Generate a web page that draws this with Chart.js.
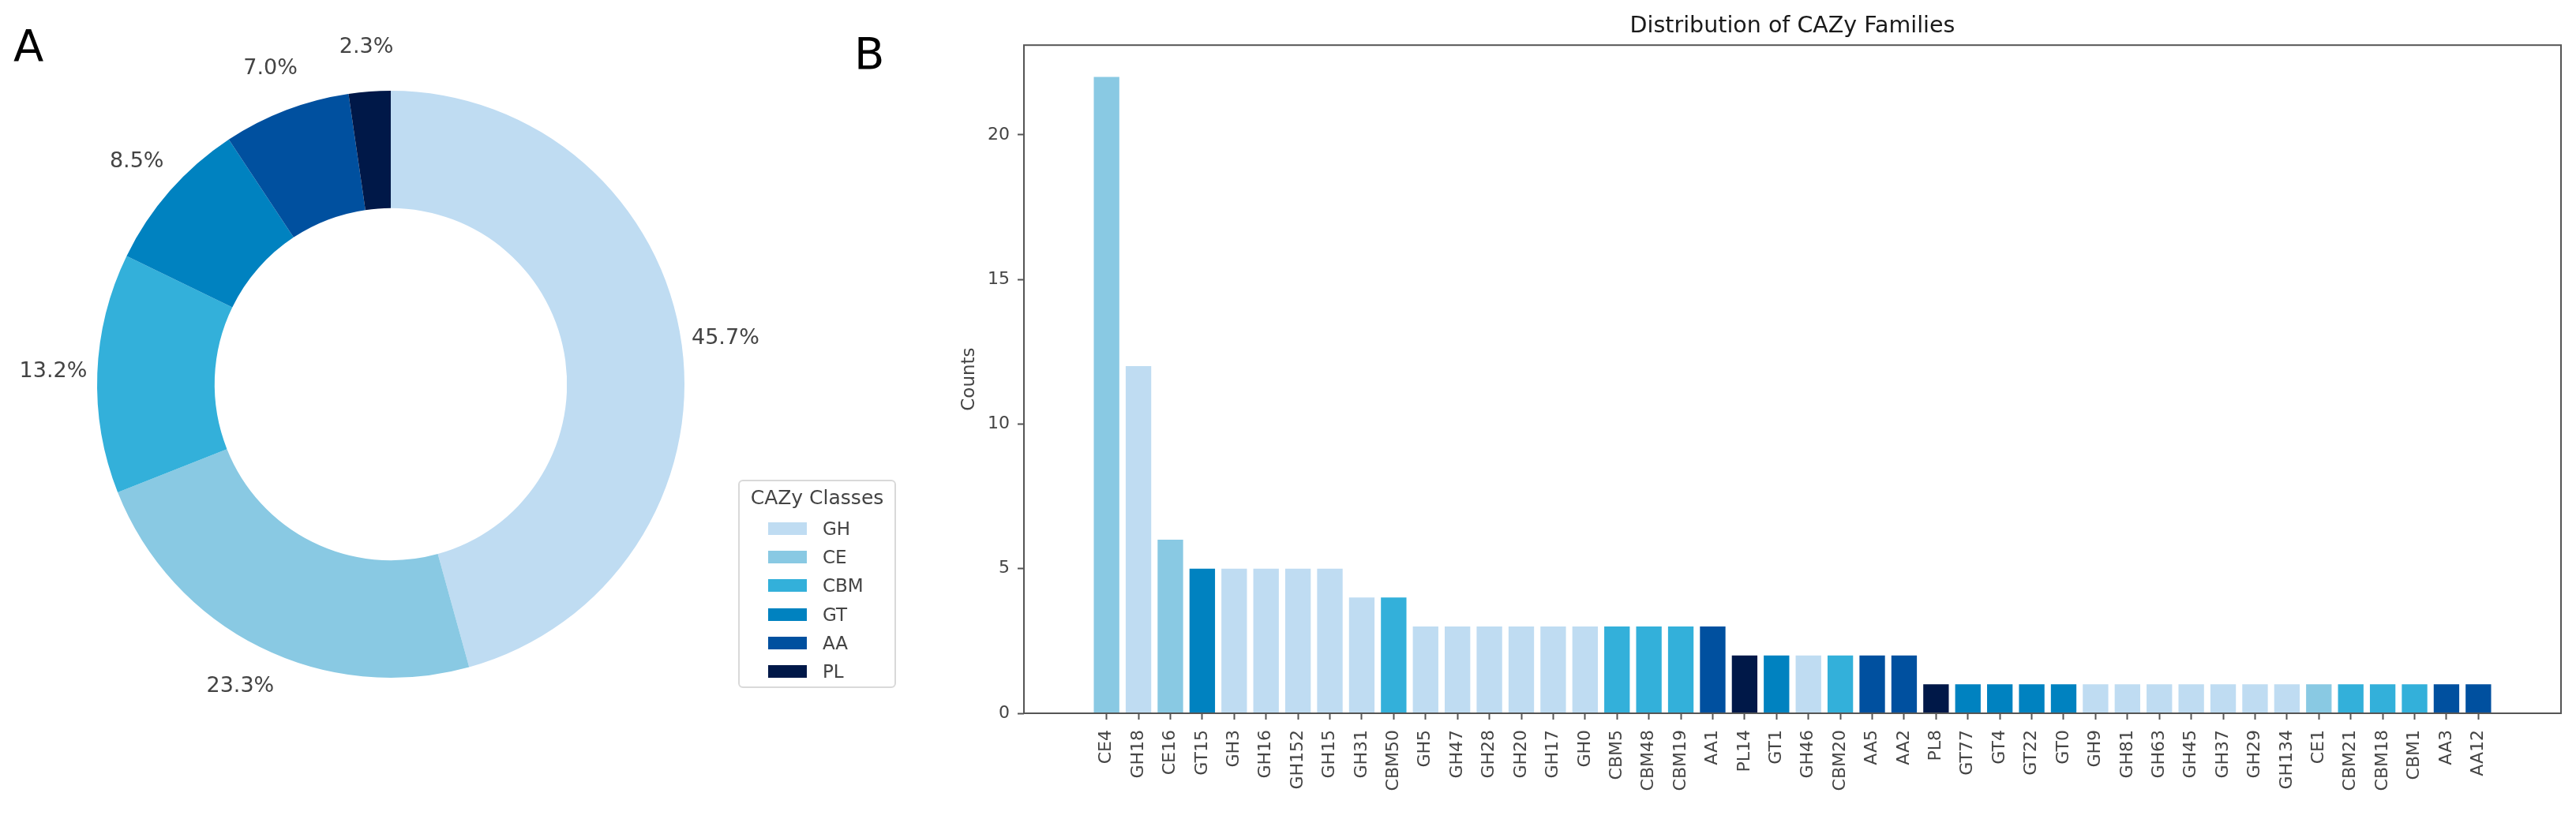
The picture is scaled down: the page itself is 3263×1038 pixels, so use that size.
<!DOCTYPE html>
<html>
<head>
<meta charset="utf-8">
<script src="https://cdn.jsdelivr.net/npm/chart.js@4.4.1/dist/chart.umd.min.js"></script>
<style>
  html, body { margin: 0; padding: 0; background: #ffffff; }
  #wrap { position: relative; width: 3263px; height: 1038px; overflow: hidden; background: #fff; font-family: "DejaVu Sans", sans-serif; }
  canvas { position: absolute; }
  #cA { left: 0px; top: 0px; }
  #cB { left: 1150px; top: 0px; }
  .panel { position: absolute; font-family: "DejaVu Sans", sans-serif; font-size: 56px; color: #000; line-height: 1; }
  #legend { position: absolute; left: 935px; top: 608px; width: 196px; height: 260px; border: 2px solid #d9d9d9; border-radius: 6px; background: #fff; color: #444; }
  #legend .ttl { position: absolute; left: 0; width: 196px; top: 6px; text-align: center; font-size: 25px; line-height: 30px; }
  .item { position: absolute; left: 0; height: 30px; width: 196px; }
  .item .sw { position: absolute; left: 36px; top: 7px; width: 49px; height: 16px; }
  .item .lb { position: absolute; left: 105px; top: 0; font-size: 23px; line-height: 30px; }
</style>
</head>
<body>
<div id="wrap">
  <canvas id="cA" width="990" height="974"></canvas>
  <canvas id="cB" width="2113" height="1038"></canvas>
  <div class="panel" id="lblA" style="left:17px; top:30px;">A</div>
  <div class="panel" id="lblB" style="left:1082px; top:40px;">B</div>
  <div id="legend"><div class="ttl">CAZy Classes</div></div>
</div>
<script>
// ---------------- data ----------------
const families = ["CE4","GH18","CE16","GT15","GH3","GH16","GH152","GH15","GH31","CBM50",
  "GH5","GH47","GH28","GH20","GH17","GH0","CBM5","CBM48","CBM19","AA1",
  "PL14","GT1","GH46","CBM20","AA5","AA2","PL8","GT77","GT4","GT22",
  "GT0","GH9","GH81","GH63","GH45","GH37","GH29","GH134","CE1","CBM21",
  "CBM18","CBM1","AA3","AA12"];
const counts = [22,12,6,5,5,5,5,5,4,4,
  3,3,3,3,3,3,3,3,3,3,
  2,2,2,2,2,2,1,1,1,1,
  1,1,1,1,1,1,1,1,1,1,
  1,1,1,1];
const classNames = ["GH","CE","CBM","GT","AA","PL"];
const classPercents = [45.7, 23.3, 13.2, 8.5, 7.0, 2.3];
const yTickValues = [0, 5, 10, 15, 20];

// ---------------- style ----------------
const classColors = { GH: "#bfdcf2", CE: "#89c9e3", CBM: "#33b0da", GT: "#0082c0", AA: "#00509f", PL: "#001848" };
const FONT = "DejaVu Sans";
const familyClass = f => f.match(/^[A-Z]+/)[0];

// ---------------- legend (HTML) ----------------
const leg = document.getElementById('legend');
classNames.forEach((c, i) => {
  const d = document.createElement('div');
  d.className = 'item';
  d.style.top = (45 + i * 36.2) + 'px';
  d.innerHTML = '<div class="sw" style="background:' + classColors[c] + '"></div><div class="lb">' + c + '</div>';
  leg.appendChild(d);
});

// ---------------- donut ----------------
const pctLabels = {
  id: 'pctLabels',
  afterDatasetsDraw(chart) {
    const ctx = chart.ctx;
    const meta = chart.getDatasetMeta(0);
    ctx.save();
    ctx.font = '27px "' + FONT + '"';
    ctx.fillStyle = '#444';
    ctx.textAlign = 'center';
    ctx.textBaseline = 'middle';
    meta.data.forEach((arc, i) => {
      const p = arc.getProps(['x', 'y', 'startAngle', 'endAngle', 'outerRadius'], true);
      const mid = (p.startAngle + p.endAngle) / 2;
      const r = p.outerRadius * 1.15;
      ctx.fillText(classPercents[i].toFixed(1) + '%', p.x + r * Math.cos(mid), p.y + r * Math.sin(mid));
    });
    ctx.restore();
  }
};

new Chart(document.getElementById('cA'), {
  type: 'doughnut',
  data: {
    labels: classNames,
    datasets: [{
      data: classPercents,
      backgroundColor: classNames.map(c => classColors[c]),
      borderWidth: 0,
      borderColor: 'rgba(0,0,0,0)'
    }]
  },
  options: {
    responsive: false,
    devicePixelRatio: 1,
    animation: false,
    cutout: '60%',
    layout: { padding: 115 },
    plugins: { legend: { display: false }, tooltip: { enabled: false } }
  },
  plugins: [pctLabels]
});

// ---------------- bar chart ----------------
const spines = {
  id: 'spines',
  afterDatasetsDraw(chart) {
    const a = chart.chartArea, ctx = chart.ctx;
    ctx.save();
    ctx.strokeStyle = '#555';
    ctx.lineWidth = 2;
    ctx.strokeRect(a.left, a.top, a.right - a.left, a.bottom - a.top);
    ctx.restore();
  }
};

new Chart(document.getElementById('cB'), {
  type: 'bar',
  data: {
    datasets: [{
      data: counts.map((v, i) => ({ x: i, y: v })),
      backgroundColor: families.map(f => classColors[familyClass(f)]),
      borderWidth: 0,
      barPercentage: 0.8,
      categoryPercentage: 1.0
    }]
  },
  options: {
    responsive: false,
    devicePixelRatio: 1,
    animation: false,
    layout: { padding: { left: 0, right: 19, top: 0, bottom: 0 } },
    plugins: {
      legend: { display: false },
      tooltip: { enabled: false },
      title: {
        display: true,
        fullSize: false,
        text: 'Distribution of CAZy Families',
        color: '#1a1a1a',
        font: { family: FONT, size: 28.5, weight: 'normal' },
        padding: { top: 16, bottom: 7 }
      }
    },
    scales: {
      x: {
        type: 'linear',
        min: -2.59,
        max: 45.59,
        offset: false,
        afterBuildTicks: s => { s.ticks = families.map((_, i) => ({ value: i })); },
        afterFit: s => { s.height = 134; },
        grid: { display: true, offset: false, drawOnChartArea: false, drawTicks: true, tickLength: 8, tickColor: '#555', tickWidth: 2 },
        border: { display: false },
        ticks: {
          autoSkip: false,
          maxRotation: 90,
          minRotation: 90,
          padding: 13,
          color: '#444',
          font: { family: FONT, size: 22 },
          callback: v => families[v]
        }
      },
      y: {
        type: 'linear',
        min: 0,
        max: 23.1,
        afterBuildTicks: s => { s.ticks = yTickValues.map(v => ({ value: v })); },
        afterFit: s => { s.width = 147; },
        grid: { display: true, drawOnChartArea: false, drawTicks: true, tickLength: 8, tickColor: '#555', tickWidth: 2 },
        border: { display: false },
        ticks: { padding: 10, color: '#444', font: { family: FONT, size: 22 } },
        title: { display: true, text: 'Counts', color: '#444', font: { family: FONT, size: 23 }, padding: { top: 64, bottom: 0 } }
      }
    }
  },
  plugins: [spines]
});
</script>
</body>
</html>
